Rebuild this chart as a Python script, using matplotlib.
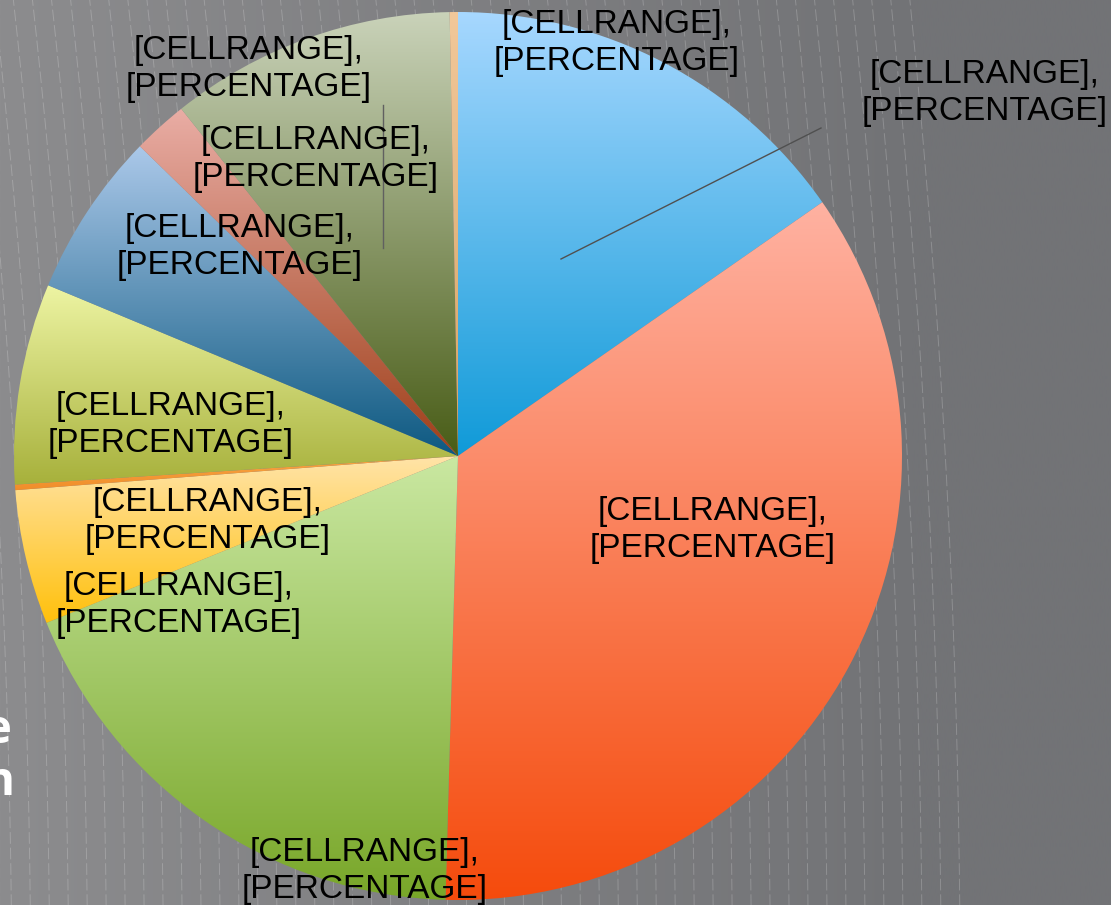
import numpy as np
import matplotlib.pyplot as plt
from matplotlib.colors import to_rgb

# slice values (percent), clockwise from 12 o'clock
values = [15.3, 35.1, 18.4, 4.9, 0.2, 7.3, 6.0, 2.0, 10.4, 0.3]
labels = ['[CELLRANGE],\n[PERCENTAGE]'] * len(values)

# gradient colours for each slice: (top, bottom)
top_colors = ['#a8d8ff', '#ffb2a2', '#cae8a2', '#ffe4aa', '#f8a848', '#eef5a4',
              '#acc9ea', '#eaaea6', '#cad3ba', '#f2c89a']
bottom_colors = ['#0f9ad8', '#f54b0c', '#78a628', '#ffc00a', '#f08c28', '#a6b03a',
                 '#0c5880', '#9e3e18', '#485c16', '#d6a466']

# label positions in pixels (x, y from top)
label_pos = [(985, 93), (713, 530), (365, 871), (179, 605), (208, 521),
             (171, 425), (240, 247), (316, 159), (249, 69), (617, 43)]

W, H = 1111, 905
fig = plt.figure(figsize=(W / 100, H / 100), dpi=100)
ax = fig.add_axes([0, 0, 1, 1])

# background: grey gradient
bg = np.linspace(0, 1, 400)
bg = np.clip(bg / 0.82, 0, 1)
c0, c1 = np.array(to_rgb('#8c8c8e')), np.array(to_rgb('#727376'))
bg_img = c0[None, None, :] * (1 - bg[None, :, None]) + c1[None, None, :] * bg[None, :, None]
ax.imshow(bg_img, extent=(0, W, 0, H), aspect='auto', zorder=0, interpolation='bilinear')

# faint dashed arcs in the background
acx, acy = -9000, H - 1000
for x_at in np.arange(-5, 950, 19):
    r = np.hypot(x_at - acx, (H - 450) - acy)
    t = np.linspace(-0.12, 0.12, 400)
    ax.plot(acx + r * np.cos(t), acy + r * np.sin(t), color='white', alpha=0.2,
            lw=0.7, dashes=(12, 4), zorder=1)

cx, cy, R = 458, H - 456, 444
wedges, _ = ax.pie(values, startangle=90, counterclock=False, center=(cx, cy),
                   radius=R, wedgeprops=dict(linewidth=0, edgecolor='none'))

for w, ct, cb in zip(wedges, top_colors, bottom_colors):
    w.set_facecolor('none')
    th = np.radians(np.linspace(w.theta1, w.theta2, 200))
    xs = np.concatenate([[cx], cx + R * np.cos(th)])
    ys = np.concatenate([[cy], cy + R * np.sin(th)])
    f = np.linspace(0, 1, 256)[:, None, None]
    grad = np.array(to_rgb(ct))[None, None, :] * (1 - f) + np.array(to_rgb(cb))[None, None, :] * f
    im = ax.imshow(grad, extent=(xs.min() - 2, xs.max() + 2, ys.min() - 2, ys.max() + 2),
                   origin='upper', aspect='auto', interpolation='bilinear', zorder=2)
    im.set_clip_path(w)

for lab, (lx, ly) in zip(labels, label_pos):
    ax.text(lx, H - ly, lab, ha='center', va='center', multialignment='center',
            fontsize=24, family='Liberation Sans', color='black', linespacing=1.25, zorder=5)

# leader lines
ax.plot([561, 821], [H - 259, H - 128], color='#505050', lw=1, zorder=4)
ax.plot([383, 383], [H - 105, H - 248], color='#606060', lw=1, zorder=4)

# slide text cut off at the left edge (as in the source)
ax.text(12, H - 730, 'e', ha='right', va='center', fontsize=34, color='white',
        fontweight='bold', family='Open Sans', zorder=5)
ax.text(14, H - 782, 'n', ha='right', va='center', fontsize=34, color='white',
        fontweight='bold', family='Open Sans', zorder=5)

ax.set_xlim(0, W)
ax.set_ylim(0, H)
ax.axis('off')
fig.savefig('out.png', dpi=100)
